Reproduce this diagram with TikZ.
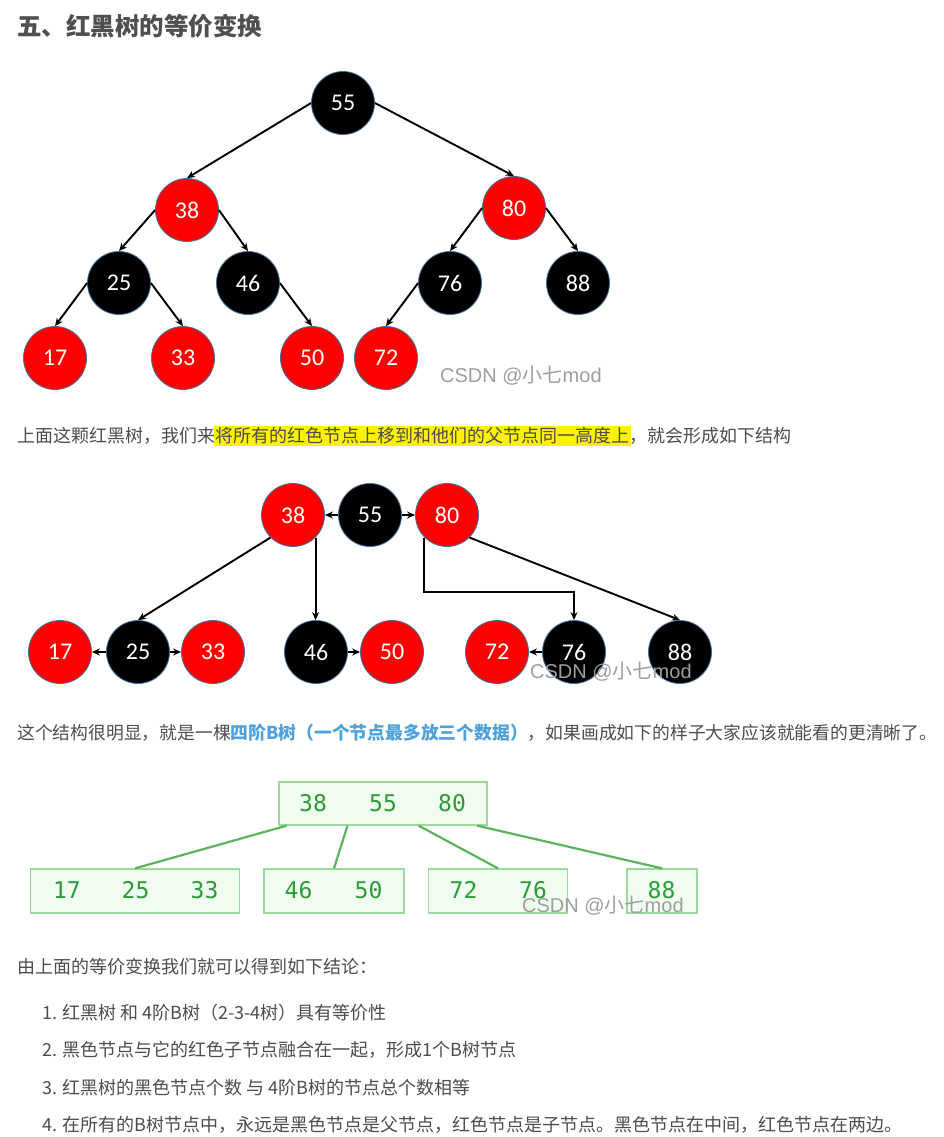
\documentclass[tikz,border=0pt]{standalone}
\usepackage{fontspec}
\setmainfont{Noto Sans CJK SC}
\newfontfamily\cjk{Noto Sans CJK SC}
\newfontfamily\numfont{Carlito}
\newfontfamily\monofont{DejaVu Sans Mono}
\newfontfamily\wmfont{Liberation Sans}
\usetikzlibrary{arrows.meta,positioning,calc}

\definecolor{txtgray}{HTML}{4D4D4D}
\definecolor{titlegray}{HTML}{4F4F4F}
\definecolor{strongblue}{HTML}{4EA1DB}
\definecolor{nodeedge}{HTML}{41719C}
\definecolor{bline}{HTML}{5CB35C}
\definecolor{bborder}{HTML}{9DD89D}
\definecolor{bfill}{HTML}{EFFCEF}
\definecolor{btext}{HTML}{2E9B3A}
\definecolor{wmgray}{HTML}{9E9E9E}

\newcommand\hlmark[1]{{\setlength\fboxsep{1.5pt}\hspace{-1.5pt}\colorbox{yellow}{#1}\hspace{-1.5pt}}}

\tikzset{
  rb/.style={circle, minimum size=63pt, inner sep=0pt, draw=nodeedge, line width=0.8pt,
    text=white, font=\numfont\fontsize{24}{24}\selectfont},
  rnode/.style={rb, fill=red},
  bnode/.style={rb, fill=black},
  arr/.style={-{Stealth[length=8pt,width=7pt]}, line width=1.9pt},
  bbox/.style={draw=bborder, fill=bfill, line width=1.3pt, inner sep=0pt},
  bnum/.style={text=btext, font=\monofont\fontsize{23}{23}\selectfont},
  bedge/.style={draw=bline, line width=2.2pt},
  para/.style={anchor=west, inner sep=0pt, text=txtgray, font=\fontsize{18}{18}\selectfont},
  wmark/.style={text=wmgray, font=\wmfont\fontsize{20}{20}\selectfont},
}

\begin{document}
\begin{tikzpicture}[x=1pt, y=-1pt]
    \fill[white] (0,0) rectangle (943,1137);
    \useasboundingbox (0,0) rectangle (943,1137);

    % title
    \node[anchor=west, inner sep=0pt, text=titlegray, font=\fontsize{24.5}{24.5}\selectfont\bfseries] (title) at (17,26) {五、红黑树的等价变换};

    % red-black tree
    \node[bnode] (a55) at (343,103) {55};
    \node[rnode] (a38) at (187,210) {38};
    \node[rnode] (a80) at (514,208) {80};
    \node[bnode] (a25) at (119,283) {25};
    \node[bnode] (a46) at (248,283) {46};
    \node[bnode] (a76) at (450,283) {76};
    \node[bnode] (a88) at (578,283) {88};
    \node[rnode] (a17) at (55,358) {17};
    \node[rnode] (a33) at (183,358) {33};
    \node[rnode] (a50) at (312,358) {50};
    \node[rnode] (a72) at (386,358) {72};
    \draw[arr] (a55.west) -- (a38.north);
    \draw[arr] (a55.east) -- (a80.north);
    \draw[arr] (a38.west) -- (a25.north);
    \draw[arr] (a38.east) -- (a46.north);
    \draw[arr] (a25.west) -- (a17.north);
    \draw[arr] (a25.east) -- (a33.north);
    \draw[arr] (a46.east) -- (a50.north);
    \draw[arr] (a80.west) -- (a76.north);
    \draw[arr] (a80.east) -- (a88.north);
    \draw[arr] (a76.west) -- (a72.north);

    \node[para] (p1) at (17,436) {上面这颗红黑树，我们来\hlmark{将所有的红色节点上移到和他们的父节点同一高度上}，就会形成如下结构};

    % red nodes moved up
    \node[rnode] (b38) at (293,515) {38};
    \node[bnode] (b55) at (370,515) {55};
    \node[rnode] (b80) at (447,515) {80};
    \node[rnode] (b17) at (60,652) {17};
    \node[bnode] (b25) at (138,652) {25};
    \node[rnode] (b33) at (213,652) {33};
    \node[bnode] (b46) at (316,652) {46};
    \node[rnode] (b50) at (392,652) {50};
    \node[rnode] (b72) at (497,652) {72};
    \node[bnode] (b76) at (574,652) {76};
    \node[bnode] (b88) at (680,652) {88};
    \coordinate (elbow) at (500,592);
    \draw[arr] (b55.west) -- (b38.east);
    \draw[arr] (b55.east) -- (b80.west);
    \draw[arr] (b25.west) -- (b17.east);
    \draw[arr] (b25.east) -- (b33.west);
    \draw[arr] (b46.east) -- (b50.west);
    \draw[arr] (b76.west) -- (b72.east);
    \draw[arr] (b38.south west) -- (b25.north);
    \draw[arr] (b38.south east) -- (b38.south east |- b46.north);
    \draw[arr] (b80.south west) |- (elbow) -| (b76.north);
    \draw[arr] (b80.south east) -- (b88.north);

    \node[para, font=\fontsize{17.8}{17.8}\selectfont] (p2) at (17,733) {这个结构很明显，就是一棵{\color{strongblue}\bfseries 四阶B树（一个节点最多放三个数据）}，如果画成如下的样子大家应该就能看的更清晰了。};

    % 4-order B tree
    \node[bbox, minimum width=208pt, minimum height=43pt] (top) at (383,803.5) {};
    \node[bbox, minimum width=209pt, minimum height=44pt] (c1) at (135,891) {};
    \node[bbox, minimum width=140pt, minimum height=44pt] (c2) at (334,891) {};
    \node[bbox, minimum width=139pt, minimum height=44pt] (c3) at (498,891) {};
    \node[bbox, minimum width=70pt, minimum height=44pt] (c4) at (662,891) {};
    \node[bnum] (t38) at (313,803) {38};
    \node[bnum] (t55) at (383,803) {55};
    \node[bnum] (t80) at (452,803) {80};
    \node[bnum] (k17) at (67,890) {17};
    \node[bnum] (k25) at (135.5,890) {25};
    \node[bnum] (k33) at (204.5,890) {33};
    \node[bnum] (k46) at (298.5,890) {46};
    \node[bnum] (k50) at (368.5,890) {50};
    \node[bnum] (k72) at (463.5,890) {72};
    \node[bnum] (k76) at (533,890) {76};
    \node[bnum] (k88) at (661.5,890) {88};
    \draw[bedge] ($(top.south west)!0.04!(top.south east)$) -- (c1.north);
    \draw[bedge] ($(top.south west)!0.33!(top.south east)$) -- (c2.north);
    \draw[bedge] ($(top.south west)!0.67!(top.south east)$) -- (c3.north);
    \draw[bedge] ($(top.south west)!0.95!(top.south east)$) -- (c4.north);

    \node[para] (p3) at (17,967) {由上面的等价变换我们就可以得到如下结论：};
    \node[para] (l1) at (42,1013) {1. 红黑树 和 4阶B树（2-3-4树）具有等价性};
    \node[para] (l2) at (42,1050) {2. 黑色节点与它的红色子节点融合在一起，形成1个B树节点};
    \node[para] (l3) at (42,1088) {3. 红黑树的黑色节点个数 与 4阶B树的节点总个数相等};
    \node[para] (l4) at (42,1125) {4. 在所有的B树节点中，永远是黑色节点是父节点，红色节点是子节点。黑色节点在中间，红色节点在两边。};

    % watermarks
    \node[wmark, anchor=west, inner sep=0pt] (wm1) at (440,376) {CSDN @{\cjk 小七}mod};
    \node[wmark, anchor=west, inner sep=0pt] (wm2) at (530,672) {CSDN @{\cjk 小七}mod};
    \node[wmark, anchor=west, inner sep=0pt] (wm3) at (522,906) {CSDN @{\cjk 小七}mod};
\end{tikzpicture}
\end{document}
